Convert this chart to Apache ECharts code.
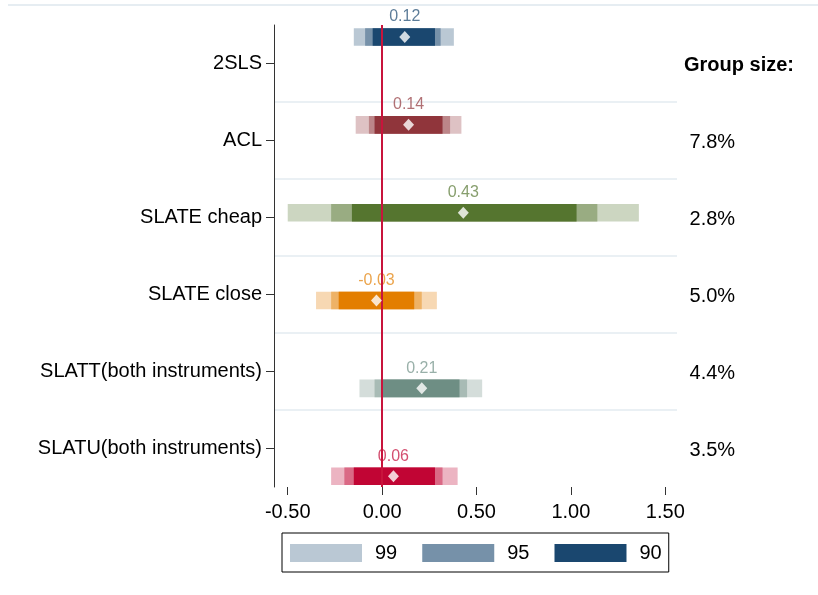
<!DOCTYPE html>
<html>
<head>
<meta charset="utf-8">
<script src="https://cdn.jsdelivr.net/npm/echarts@6/dist/echarts.min.js"></script>
<style>
  html, body { margin: 0; padding: 0; background: #fff; }
  #main { width: 818px; height: 595px; }
</style>
</head>
<body>
<div id="main"></div>
<script>
// data
const methods = ['2SLS', 'ACL', 'SLATE cheap', 'SLATE close', 'SLATT(both instruments)', 'SLATU(both instruments)'];
const groupSize = ['Group size:', '7.8%', '2.8%', '5.0%', '4.4%', '3.5%'];
const estimates = [0.12, 0.14, 0.43, -0.03, 0.21, 0.06];
const ci90Low = [-0.05, -0.04, -0.16, -0.23, 0.00, -0.15];
const ci90High = [0.28, 0.32, 1.03, 0.17, 0.41, 0.28];
const ci95Low = [-0.09, -0.07, -0.27, -0.27, -0.04, -0.20];
const ci95High = [0.31, 0.36, 1.14, 0.21, 0.45, 0.32];
const ci99Low = [-0.15, -0.14, -0.50, -0.35, -0.12, -0.27];
const ci99High = [0.38, 0.42, 1.36, 0.29, 0.53, 0.40];
const xTicks = [-0.5, 0, 0.5, 1, 1.5];
const levels = ['99', '95', '90'];

// stata-like colours, one per row
const rowColors = ['#1a476f', '#90353b', '#55752f', '#e37e00', '#6e8e84', '#c10534'];
const levelAlpha = { '99': 0.3, '95': 0.6, '90': 1 };

function mix(hex, a) {
  const n = parseInt(hex.slice(1), 16);
  const r = (n >> 16) & 255, g = (n >> 8) & 255, b = n & 255;
  const f = c => Math.round(255 - (255 - c) * a);
  return 'rgb(' + f(r) + ',' + f(g) + ',' + f(b) + ')';
}

const font = 'Liberation Sans, Arial, sans-serif';
const lows = { '99': ci99Low, '95': ci95Low, '90': ci90Low };
const highs = { '99': ci99High, '95': ci95High, '90': ci90High };

const ciSeries = levels.map(lv => ({
  name: lv,
  type: 'custom',
  xAxisIndex: 0,
  yAxisIndex: 2,
  z: 3,
  itemStyle: { color: mix(rowColors[0], levelAlpha[lv]) },
  encode: { x: [0, 1], y: 2 },
  data: methods.map((m, i) => [lows[lv][i], highs[lv][i], i + 1, i]),
  renderItem: function (params, api) {
    const y = api.value(2);
    const p0 = api.coord([api.value(0), y]);
    const p1 = api.coord([api.value(1), y]);
    const h = api.size([0, 1])[1] * 0.2;
    return {
      type: 'rect',
      shape: { x: p0[0], y: p0[1] - h / 2, width: p1[0] - p0[0], height: h },
      style: { fill: mix(rowColors[api.value(3)], levelAlpha[lv]) }
    };
  }
}));

const chart = echarts.init(document.getElementById('main'));
chart.setOption({
  animation: false,
  textStyle: { fontFamily: font },
  grid: { left: 274, right: 141, top: 25, bottom: 108 },
  graphic: [{
    type: 'line',
    shape: { x1: 8, y1: 5, x2: 818, y2: 5 },
    style: { stroke: '#e6edf2', lineWidth: 2 }
  }],
  legend: {
    data: levels,
    left: 282,
    top: 533,
    selectedMode: false,
    icon: 'rect',
    itemWidth: 72,
    itemHeight: 18,
    itemGap: 25,
    padding: [10, 7, 9, 8],
    borderColor: '#000',
    borderWidth: 1,
    textStyle: { fontSize: 20, color: '#000', padding: [0, 0, 0, 8], lineHeight: 18, fontFamily: font }
  },
  xAxis: {
    type: 'value',
    min: -0.5727,
    max: 1.562,
    axisLine: { show: false },
    axisTick: { show: true, length: 8, customValues: xTicks, lineStyle: { color: '#333' } },
    axisLabel: {
      customValues: xTicks,
      fontSize: 20, color: '#000', margin: 15,
      formatter: v => v.toFixed(2)
    },
    splitLine: { show: false }
  },
  yAxis: [
    {
      type: 'category',
      data: methods,
      inverse: true,
      position: 'left',
      axisLine: { show: true, onZero: false, lineStyle: { color: '#333', width: 1 } },
      axisTick: { show: true, alignWithLabel: true, length: 8, lineStyle: { color: '#333' } },
      axisLabel: { fontSize: 20, color: '#000', margin: 12, padding: [4, 0, 0, 0] },
      splitLine: { show: true, showMinLine: false, showMaxLine: false, lineStyle: { color: '#eaf0f4', width: 2 } }
    },
    {
      type: 'category',
      data: groupSize,
      inverse: true,
      position: 'right',
      axisLine: { show: false, onZero: false },
      axisTick: { show: false },
      axisLabel: {
        fontSize: 20, color: '#000', margin: 7, padding: [3, 0, 0, 0],
        formatter: (v, i) => i === 0 ? '{b|' + v + '}' : ' ' + v,
        rich: { b: { fontWeight: 'bold', fontSize: 20, fontFamily: font } }
      },
      splitLine: { show: false }
    },
    {
      type: 'value',
      show: false,
      inverse: true,
      min: 0.863,
      max: 6.123
    }
  ],
  series: [
    {
      name: 'labels',
      type: 'scatter',
      yAxisIndex: 2,
      z: 1,
      symbolSize: 0,
      itemStyle: { color: 'transparent' },
      data: estimates.map((e, i) => ({
        value: [e, i + 1],
        label: { color: mix(rowColors[i], 0.88) }
      })),
      label: {
        show: true,
        position: 'inside',
        offset: [0, -20],
        fontSize: 16,
        fontFamily: font,
        formatter: p => p.value[0].toFixed(2)
      }
    },
    {
      name: 'zero',
      type: 'scatter',
      yAxisIndex: 2,
      z: 2,
      data: [],
      markLine: {
        silent: true,
        symbol: 'none',
        label: { show: false },
        lineStyle: { color: '#c8143c', width: 2, type: 'solid' },
        data: [{ xAxis: 0 }]
      }
    },
    ...ciSeries,
    {
      name: 'estimate',
      type: 'scatter',
      yAxisIndex: 2,
      z: 5,
      symbol: 'diamond',
      symbolSize: [11, 12],
      itemStyle: { color: '#fff' },
      data: estimates.map((e, i) => [e, i + 1])
    }
  ]
});
window.addEventListener('resize', () => { chart.resize(); });
</script>
</body>
</html>
